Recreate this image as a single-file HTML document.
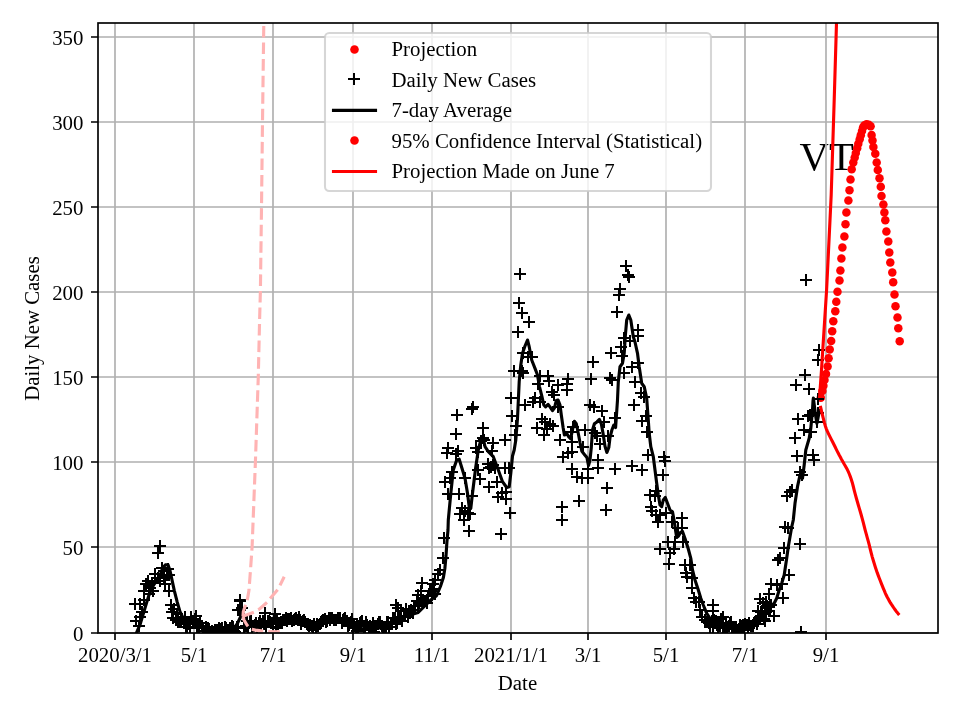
<!DOCTYPE html>
<html><head><meta charset="utf-8"><title>VT</title>
<style>html,body{margin:0;padding:0;background:#fff}svg{display:block;will-change:transform}text{font-family:"Liberation Serif",serif;fill:#000}</style></head><body>
<svg width="960" height="720" viewBox="0 0 960 720">
<rect width="960" height="720" fill="#fff"/>
<defs><clipPath id="c"><rect x="98" y="23" width="840" height="610"/></clipPath>
<path id="p" d="M-6 0H6M0 -6V6" stroke="#000" stroke-width="2" fill="none"/></defs>
<text x="799.6" y="169.6" font-size="40.6">VT</text>
<path d="M115 23 V633 M194 23 V633 M273 23 V633 M353 23 V633 M432 23 V633 M511 23 V633 M588 23 V633 M666 23 V633 M745 23 V633 M826 23 V633 M98 633 H938 M98 547 H938 M98 462 H938 M98 377 H938 M98 292 H938 M98 207 H938 M98 122 H938 M98 37 H938" stroke="#b0b0b0" stroke-width="1.67" fill="none"/>
<g clip-path="url(#c)">
<g fill="#ff0000"><circle cx="820.8" cy="397.8" r="4.25"/><circle cx="822.4" cy="391.0" r="4.25"/><circle cx="823.4" cy="385.8" r="4.25"/><circle cx="824.5" cy="380.0" r="4.25"/><circle cx="826.0" cy="373.9" r="4.25"/><circle cx="827.6" cy="366.6" r="4.25"/><circle cx="828.6" cy="358.2" r="4.25"/><circle cx="829.7" cy="349.4" r="4.25"/><circle cx="831.2" cy="341.0" r="4.25"/><circle cx="832.2" cy="331.3" r="4.25"/><circle cx="833.3" cy="321.3" r="4.25"/><circle cx="835.3" cy="311.3" r="4.25"/><circle cx="836.3" cy="301.7" r="4.25"/><circle cx="837.5" cy="291.7" r="4.25"/><circle cx="839.5" cy="280.5" r="4.25"/><circle cx="840.4" cy="270.5" r="4.25"/><circle cx="841.4" cy="258.6" r="4.25"/><circle cx="842.4" cy="247.4" r="4.25"/><circle cx="844.4" cy="236.6" r="4.25"/><circle cx="845.5" cy="224.3" r="4.25"/><circle cx="846.4" cy="212.4" r="4.25"/><circle cx="848.4" cy="200.5" r="4.25"/><circle cx="849.5" cy="190.3" r="4.25"/><circle cx="850.5" cy="179.5" r="4.25"/><circle cx="851.7" cy="169.2" r="4.25"/><circle cx="853.3" cy="162.5" r="4.25"/><circle cx="854.7" cy="157.5" r="4.25"/><circle cx="855.8" cy="153.0" r="4.25"/><circle cx="857.2" cy="148.3" r="4.25"/><circle cx="858.3" cy="143.7" r="4.25"/><circle cx="859.7" cy="139.2" r="4.25"/><circle cx="860.8" cy="135.3" r="4.25"/><circle cx="862.0" cy="131.0" r="4.25"/><circle cx="863.0" cy="127.5" r="4.25"/><circle cx="864.2" cy="125.5" r="4.25"/><circle cx="866.5" cy="124.2" r="4.25"/><circle cx="868.8" cy="124.7" r="4.25"/><circle cx="870.6" cy="126.2" r="4.25"/><circle cx="871.6" cy="135.0" r="4.25"/><circle cx="872.5" cy="140.6" r="4.25"/><circle cx="873.4" cy="146.9" r="4.25"/><circle cx="875.3" cy="153.8" r="4.25"/><circle cx="876.7" cy="162.5" r="4.25"/><circle cx="877.8" cy="170.0" r="4.25"/><circle cx="879.5" cy="178.3" r="4.25"/><circle cx="880.8" cy="186.7" r="4.25"/><circle cx="881.5" cy="196.0" r="4.25"/><circle cx="883.4" cy="204.5" r="4.25"/><circle cx="884.4" cy="212.4" r="4.25"/><circle cx="885.3" cy="220.3" r="4.25"/><circle cx="886.4" cy="231.5" r="4.25"/><circle cx="888.3" cy="241.4" r="4.25"/><circle cx="889.3" cy="252.4" r="4.25"/><circle cx="890.3" cy="262.5" r="4.25"/><circle cx="892.3" cy="272.4" r="4.25"/><circle cx="893.2" cy="282.3" r="4.25"/><circle cx="894.5" cy="294.5" r="4.25"/><circle cx="895.5" cy="306.3" r="4.25"/><circle cx="897.5" cy="317.5" r="4.25"/><circle cx="898.3" cy="328.3" r="4.25"/><circle cx="899.7" cy="341.3" r="4.25"/></g>
<g><use href="#p" x="160" y="546"/><use href="#p" x="158" y="553"/><use href="#p" x="162" y="568"/><use href="#p" x="155" y="574"/><use href="#p" x="158" y="578"/><use href="#p" x="167" y="575"/><use href="#p" x="169" y="575"/><use href="#p" x="135" y="604"/><use href="#p" x="146" y="584"/><use href="#p" x="144" y="591"/><use href="#p" x="148" y="581"/><use href="#p" x="150" y="588"/><use href="#p" x="153" y="591"/><use href="#p" x="140" y="604"/><use href="#p" x="169" y="591"/><use href="#p" x="171" y="605"/><use href="#p" x="172" y="612"/><use href="#p" x="173" y="618"/><use href="#p" x="136" y="621"/><use href="#p" x="139" y="626"/><use href="#p" x="140" y="617"/><use href="#p" x="165" y="584"/><use href="#p" x="196" y="616"/><use href="#p" x="142" y="612"/><use href="#p" x="144" y="600"/><use href="#p" x="149" y="594"/><use href="#p" x="152" y="583"/><use href="#p" x="164" y="571"/><use href="#p" x="160" y="581"/><use href="#p" x="164" y="577"/><use href="#p" x="168" y="569"/><use href="#p" x="174" y="609"/><use href="#p" x="176" y="620"/><use href="#p" x="177" y="614"/><use href="#p" x="178" y="622"/><use href="#p" x="240" y="600"/><use href="#p" x="238" y="610"/><use href="#p" x="242" y="608"/><use href="#p" x="396" y="605"/><use href="#p" x="398" y="608"/><use href="#p" x="422" y="583"/><use href="#p" x="421" y="591"/><use href="#p" x="418" y="595"/><use href="#p" x="443" y="558"/><use href="#p" x="444" y="538"/><use href="#p" x="440" y="570"/><use href="#p" x="438" y="574"/><use href="#p" x="435" y="580"/><use href="#p" x="434" y="589"/><use href="#p" x="469" y="531"/><use href="#p" x="464" y="520"/><use href="#p" x="501" y="534"/><use href="#p" x="562" y="520"/><use href="#p" x="457" y="415"/><use href="#p" x="473" y="407"/><use href="#p" x="472" y="409"/><use href="#p" x="481" y="441"/><use href="#p" x="483" y="438"/><use href="#p" x="489" y="468"/><use href="#p" x="493" y="465"/><use href="#p" x="483" y="428"/><use href="#p" x="456" y="434"/><use href="#p" x="448" y="448"/><use href="#p" x="447" y="453"/><use href="#p" x="458" y="451"/><use href="#p" x="456" y="454"/><use href="#p" x="476" y="448"/><use href="#p" x="478" y="452"/><use href="#p" x="484" y="440"/><use href="#p" x="493" y="443"/><use href="#p" x="505" y="440"/><use href="#p" x="492" y="451"/><use href="#p" x="488" y="464"/><use href="#p" x="491" y="467"/><use href="#p" x="495" y="468"/><use href="#p" x="478" y="470"/><use href="#p" x="480" y="479"/><use href="#p" x="452" y="472"/><use href="#p" x="450" y="478"/><use href="#p" x="445" y="482"/><use href="#p" x="465" y="478"/><use href="#p" x="448" y="494"/><use href="#p" x="459" y="494"/><use href="#p" x="472" y="496"/><use href="#p" x="489" y="487"/><use href="#p" x="497" y="482"/><use href="#p" x="498" y="497"/><use href="#p" x="502" y="493"/><use href="#p" x="506" y="492"/><use href="#p" x="506" y="499"/><use href="#p" x="510" y="513"/><use href="#p" x="509" y="468"/><use href="#p" x="505" y="468"/><use href="#p" x="512" y="416"/><use href="#p" x="516" y="426"/><use href="#p" x="515" y="435"/><use href="#p" x="525" y="405"/><use href="#p" x="533" y="402"/><use href="#p" x="542" y="419"/><use href="#p" x="537" y="428"/><use href="#p" x="545" y="422"/><use href="#p" x="550" y="424"/><use href="#p" x="553" y="426"/><use href="#p" x="544" y="435"/><use href="#p" x="547" y="429"/><use href="#p" x="560" y="440"/><use href="#p" x="571" y="432"/><use href="#p" x="572" y="442"/><use href="#p" x="568" y="453"/><use href="#p" x="563" y="457"/><use href="#p" x="572" y="452"/><use href="#p" x="572" y="469"/><use href="#p" x="577" y="477"/><use href="#p" x="562" y="507"/><use href="#p" x="579" y="501"/><use href="#p" x="462" y="508"/><use href="#p" x="465" y="511"/><use href="#p" x="468" y="513"/><use href="#p" x="460" y="514"/><use href="#p" x="470" y="514"/><use href="#p" x="520" y="274"/><use href="#p" x="519" y="303"/><use href="#p" x="522" y="313"/><use href="#p" x="529" y="322"/><use href="#p" x="518" y="332"/><use href="#p" x="528" y="357"/><use href="#p" x="532" y="357"/><use href="#p" x="523" y="353"/><use href="#p" x="626" y="266"/><use href="#p" x="628" y="275"/><use href="#p" x="629" y="277"/><use href="#p" x="620" y="289"/><use href="#p" x="619" y="295"/><use href="#p" x="617" y="312"/><use href="#p" x="593" y="362"/><use href="#p" x="611" y="353"/><use href="#p" x="621" y="347"/><use href="#p" x="624" y="338"/><use href="#p" x="622" y="356"/><use href="#p" x="630" y="341"/><use href="#p" x="638" y="330"/><use href="#p" x="638" y="336"/><use href="#p" x="638" y="363"/><use href="#p" x="632" y="367"/><use href="#p" x="514" y="371"/><use href="#p" x="522" y="371"/><use href="#p" x="523" y="373"/><use href="#p" x="511" y="398"/><use href="#p" x="535" y="398"/><use href="#p" x="538" y="384"/><use href="#p" x="540" y="376"/><use href="#p" x="548" y="376"/><use href="#p" x="549" y="381"/><use href="#p" x="558" y="385"/><use href="#p" x="568" y="379"/><use href="#p" x="567" y="384"/><use href="#p" x="567" y="390"/><use href="#p" x="552" y="392"/><use href="#p" x="554" y="395"/><use href="#p" x="540" y="402"/><use href="#p" x="558" y="407"/><use href="#p" x="573" y="427"/><use href="#p" x="585" y="430"/><use href="#p" x="583" y="447"/><use href="#p" x="591" y="379"/><use href="#p" x="590" y="405"/><use href="#p" x="594" y="407"/><use href="#p" x="602" y="411"/><use href="#p" x="610" y="378"/><use href="#p" x="612" y="380"/><use href="#p" x="624" y="373"/><use href="#p" x="635" y="382"/><use href="#p" x="634" y="405"/><use href="#p" x="641" y="393"/><use href="#p" x="644" y="397"/><use href="#p" x="646" y="416"/><use href="#p" x="642" y="421"/><use href="#p" x="647" y="432"/><use href="#p" x="648" y="455"/><use href="#p" x="615" y="418"/><use href="#p" x="604" y="422"/><use href="#p" x="595" y="433"/><use href="#p" x="597" y="436"/><use href="#p" x="608" y="436"/><use href="#p" x="600" y="444"/><use href="#p" x="598" y="460"/><use href="#p" x="664" y="457"/><use href="#p" x="665" y="461"/><use href="#p" x="632" y="466"/><use href="#p" x="642" y="470"/><use href="#p" x="663" y="475"/><use href="#p" x="656" y="491"/><use href="#p" x="650" y="495"/><use href="#p" x="655" y="496"/><use href="#p" x="651" y="507"/><use href="#p" x="652" y="511"/><use href="#p" x="656" y="515"/><use href="#p" x="660" y="515"/><use href="#p" x="666" y="513"/><use href="#p" x="682" y="518"/><use href="#p" x="787" y="496"/><use href="#p" x="660" y="549"/><use href="#p" x="668" y="542"/><use href="#p" x="670" y="553"/><use href="#p" x="669" y="564"/><use href="#p" x="674" y="549"/><use href="#p" x="683" y="542"/><use href="#p" x="678" y="528"/><use href="#p" x="682" y="528"/><use href="#p" x="658" y="522"/><use href="#p" x="672" y="522"/><use href="#p" x="685" y="565"/><use href="#p" x="690" y="565"/><use href="#p" x="686" y="573"/><use href="#p" x="687" y="577"/><use href="#p" x="692" y="578"/><use href="#p" x="692" y="588"/><use href="#p" x="694" y="598"/><use href="#p" x="696" y="602"/><use href="#p" x="699" y="602"/><use href="#p" x="700" y="610"/><use href="#p" x="702" y="617"/><use href="#p" x="713" y="605"/><use href="#p" x="713" y="611"/><use href="#p" x="710" y="627"/><use href="#p" x="723" y="617"/><use href="#p" x="760" y="599"/><use href="#p" x="763" y="603"/><use href="#p" x="766" y="602"/><use href="#p" x="771" y="584"/><use href="#p" x="777" y="585"/><use href="#p" x="782" y="584"/><use href="#p" x="769" y="594"/><use href="#p" x="783" y="598"/><use href="#p" x="758" y="611"/><use href="#p" x="769" y="611"/><use href="#p" x="774" y="616"/><use href="#p" x="765" y="621"/><use href="#p" x="778" y="560"/><use href="#p" x="780" y="558"/><use href="#p" x="784" y="548"/><use href="#p" x="785" y="527"/><use href="#p" x="788" y="528"/><use href="#p" x="789" y="575"/><use href="#p" x="798" y="419"/><use href="#p" x="808" y="416"/><use href="#p" x="810" y="415"/><use href="#p" x="804" y="430"/><use href="#p" x="811" y="432"/><use href="#p" x="795" y="438"/><use href="#p" x="817" y="422"/><use href="#p" x="818" y="413"/><use href="#p" x="797" y="456"/><use href="#p" x="813" y="455"/><use href="#p" x="814" y="460"/><use href="#p" x="800" y="472"/><use href="#p" x="802" y="475"/><use href="#p" x="792" y="490"/><use href="#p" x="790" y="492"/><use href="#p" x="806" y="280"/><use href="#p" x="819" y="350"/><use href="#p" x="818" y="360"/><use href="#p" x="805" y="375"/><use href="#p" x="796" y="385"/><use href="#p" x="809" y="389"/><use href="#p" x="818" y="399"/><use href="#p" x="800" y="544"/><use href="#p" x="801" y="632"/><use href="#p" x="582" y="478"/><use href="#p" x="588" y="478"/><use href="#p" x="588" y="469"/><use href="#p" x="598" y="468"/><use href="#p" x="615" y="469"/><use href="#p" x="607" y="488"/><use href="#p" x="606" y="510"/><use href="#p" x="675" y="542"/><use href="#p" x="177" y="620"/><use href="#p" x="178" y="618"/><use href="#p" x="180" y="622"/><use href="#p" x="181" y="620"/><use href="#p" x="182" y="619"/><use href="#p" x="184" y="623"/><use href="#p" x="185" y="617"/><use href="#p" x="186" y="627"/><use href="#p" x="187" y="627"/><use href="#p" x="189" y="624"/><use href="#p" x="190" y="628"/><use href="#p" x="191" y="617"/><use href="#p" x="193" y="621"/><use href="#p" x="194" y="622"/><use href="#p" x="195" y="619"/><use href="#p" x="197" y="628"/><use href="#p" x="198" y="625"/><use href="#p" x="199" y="627"/><use href="#p" x="200" y="623"/><use href="#p" x="202" y="626"/><use href="#p" x="203" y="631"/><use href="#p" x="204" y="631"/><use href="#p" x="206" y="627"/><use href="#p" x="207" y="629"/><use href="#p" x="208" y="628"/><use href="#p" x="209" y="629"/><use href="#p" x="211" y="632"/><use href="#p" x="212" y="631"/><use href="#p" x="213" y="632"/><use href="#p" x="215" y="630"/><use href="#p" x="216" y="630"/><use href="#p" x="217" y="630"/><use href="#p" x="219" y="628"/><use href="#p" x="220" y="630"/><use href="#p" x="221" y="629"/><use href="#p" x="222" y="628"/><use href="#p" x="224" y="632"/><use href="#p" x="225" y="627"/><use href="#p" x="226" y="628"/><use href="#p" x="228" y="630"/><use href="#p" x="229" y="632"/><use href="#p" x="230" y="628"/><use href="#p" x="232" y="626"/><use href="#p" x="233" y="627"/><use href="#p" x="234" y="631"/><use href="#p" x="235" y="632"/><use href="#p" x="237" y="627"/><use href="#p" x="238" y="627"/><use href="#p" x="244" y="628"/><use href="#p" x="246" y="626"/><use href="#p" x="247" y="621"/><use href="#p" x="248" y="627"/><use href="#p" x="250" y="621"/><use href="#p" x="251" y="621"/><use href="#p" x="252" y="627"/><use href="#p" x="254" y="626"/><use href="#p" x="255" y="625"/><use href="#p" x="256" y="623"/><use href="#p" x="257" y="627"/><use href="#p" x="259" y="623"/><use href="#p" x="260" y="621"/><use href="#p" x="261" y="624"/><use href="#p" x="263" y="621"/><use href="#p" x="264" y="624"/><use href="#p" x="265" y="621"/><use href="#p" x="266" y="627"/><use href="#p" x="268" y="621"/><use href="#p" x="269" y="621"/><use href="#p" x="270" y="622"/><use href="#p" x="272" y="623"/><use href="#p" x="273" y="627"/><use href="#p" x="274" y="619"/><use href="#p" x="276" y="628"/><use href="#p" x="277" y="621"/><use href="#p" x="278" y="624"/><use href="#p" x="279" y="623"/><use href="#p" x="281" y="622"/><use href="#p" x="282" y="623"/><use href="#p" x="283" y="620"/><use href="#p" x="285" y="620"/><use href="#p" x="286" y="618"/><use href="#p" x="287" y="621"/><use href="#p" x="288" y="619"/><use href="#p" x="290" y="619"/><use href="#p" x="291" y="618"/><use href="#p" x="292" y="621"/><use href="#p" x="294" y="620"/><use href="#p" x="295" y="619"/><use href="#p" x="296" y="618"/><use href="#p" x="298" y="620"/><use href="#p" x="299" y="617"/><use href="#p" x="300" y="620"/><use href="#p" x="301" y="624"/><use href="#p" x="303" y="621"/><use href="#p" x="304" y="620"/><use href="#p" x="305" y="622"/><use href="#p" x="307" y="624"/><use href="#p" x="308" y="624"/><use href="#p" x="309" y="626"/><use href="#p" x="310" y="625"/><use href="#p" x="312" y="626"/><use href="#p" x="313" y="630"/><use href="#p" x="314" y="624"/><use href="#p" x="316" y="628"/><use href="#p" x="317" y="624"/><use href="#p" x="318" y="626"/><use href="#p" x="320" y="624"/><use href="#p" x="321" y="622"/><use href="#p" x="322" y="621"/><use href="#p" x="323" y="620"/><use href="#p" x="325" y="619"/><use href="#p" x="326" y="622"/><use href="#p" x="327" y="621"/><use href="#p" x="329" y="618"/><use href="#p" x="330" y="620"/><use href="#p" x="331" y="618"/><use href="#p" x="332" y="618"/><use href="#p" x="334" y="620"/><use href="#p" x="335" y="620"/><use href="#p" x="336" y="620"/><use href="#p" x="338" y="618"/><use href="#p" x="339" y="618"/><use href="#p" x="340" y="618"/><use href="#p" x="342" y="623"/><use href="#p" x="343" y="620"/><use href="#p" x="344" y="619"/><use href="#p" x="345" y="618"/><use href="#p" x="347" y="621"/><use href="#p" x="348" y="626"/><use href="#p" x="349" y="625"/><use href="#p" x="351" y="622"/><use href="#p" x="352" y="619"/><use href="#p" x="353" y="628"/><use href="#p" x="354" y="624"/><use href="#p" x="356" y="628"/><use href="#p" x="357" y="631"/><use href="#p" x="358" y="631"/><use href="#p" x="360" y="623"/><use href="#p" x="361" y="622"/><use href="#p" x="362" y="621"/><use href="#p" x="364" y="629"/><use href="#p" x="365" y="629"/><use href="#p" x="366" y="622"/><use href="#p" x="367" y="625"/><use href="#p" x="369" y="629"/><use href="#p" x="370" y="626"/><use href="#p" x="371" y="630"/><use href="#p" x="373" y="623"/><use href="#p" x="374" y="632"/><use href="#p" x="375" y="626"/><use href="#p" x="376" y="626"/><use href="#p" x="378" y="624"/><use href="#p" x="379" y="622"/><use href="#p" x="380" y="622"/><use href="#p" x="382" y="626"/><use href="#p" x="383" y="628"/><use href="#p" x="384" y="628"/><use href="#p" x="386" y="629"/><use href="#p" x="387" y="622"/><use href="#p" x="388" y="622"/><use href="#p" x="389" y="627"/><use href="#p" x="391" y="624"/><use href="#p" x="392" y="624"/><use href="#p" x="393" y="618"/><use href="#p" x="395" y="618"/><use href="#p" x="396" y="624"/><use href="#p" x="397" y="623"/><use href="#p" x="398" y="618"/><use href="#p" x="400" y="617"/><use href="#p" x="401" y="611"/><use href="#p" x="402" y="621"/><use href="#p" x="404" y="616"/><use href="#p" x="405" y="616"/><use href="#p" x="406" y="609"/><use href="#p" x="408" y="617"/><use href="#p" x="409" y="612"/><use href="#p" x="410" y="613"/><use href="#p" x="411" y="610"/><use href="#p" x="413" y="613"/><use href="#p" x="414" y="606"/><use href="#p" x="415" y="606"/><use href="#p" x="417" y="601"/><use href="#p" x="418" y="606"/><use href="#p" x="419" y="603"/><use href="#p" x="421" y="601"/><use href="#p" x="422" y="600"/><use href="#p" x="423" y="600"/><use href="#p" x="424" y="602"/><use href="#p" x="426" y="601"/><use href="#p" x="427" y="603"/><use href="#p" x="428" y="596"/><use href="#p" x="430" y="591"/><use href="#p" x="431" y="591"/><use href="#p" x="432" y="595"/><use href="#p" x="433" y="584"/><use href="#p" x="435" y="594"/><use href="#p" x="705" y="620"/><use href="#p" x="707" y="622"/><use href="#p" x="708" y="621"/><use href="#p" x="709" y="623"/><use href="#p" x="710" y="626"/><use href="#p" x="712" y="621"/><use href="#p" x="713" y="627"/><use href="#p" x="714" y="620"/><use href="#p" x="716" y="621"/><use href="#p" x="717" y="625"/><use href="#p" x="718" y="628"/><use href="#p" x="720" y="626"/><use href="#p" x="721" y="619"/><use href="#p" x="722" y="623"/><use href="#p" x="723" y="627"/><use href="#p" x="725" y="628"/><use href="#p" x="726" y="623"/><use href="#p" x="727" y="627"/><use href="#p" x="729" y="626"/><use href="#p" x="730" y="623"/><use href="#p" x="731" y="622"/><use href="#p" x="732" y="628"/><use href="#p" x="734" y="627"/><use href="#p" x="735" y="629"/><use href="#p" x="736" y="629"/><use href="#p" x="738" y="632"/><use href="#p" x="739" y="629"/><use href="#p" x="740" y="625"/><use href="#p" x="742" y="626"/><use href="#p" x="743" y="625"/><use href="#p" x="744" y="630"/><use href="#p" x="745" y="624"/><use href="#p" x="747" y="625"/><use href="#p" x="748" y="630"/><use href="#p" x="749" y="623"/><use href="#p" x="751" y="626"/><use href="#p" x="752" y="626"/><use href="#p" x="753" y="626"/><use href="#p" x="754" y="623"/><use href="#p" x="756" y="621"/><use href="#p" x="757" y="624"/><use href="#p" x="758" y="620"/><use href="#p" x="760" y="617"/><use href="#p" x="761" y="612"/><use href="#p" x="762" y="612"/><use href="#p" x="764" y="619"/><use href="#p" x="765" y="614"/><use href="#p" x="766" y="612"/><use href="#p" x="767" y="606"/><use href="#p" x="769" y="607"/><use href="#p" x="770" y="605"/><use href="#p" x="771" y="605"/><use href="#p" x="240" y="601"/><use href="#p" x="240" y="610"/><use href="#p" x="242" y="608"/><use href="#p" x="265" y="613"/><use href="#p" x="275" y="614"/></g>
<path d="M136.8 632.2 L140.3 623.9 L144.4 610.0 L148.6 596.1 L152.8 586.4 L156.3 580.8 L159.7 576.7 L162.5 568.3 L165.3 564.9 L168.1 564.9 L170.1 571.1 L172.2 580.8 L174.3 590.6 L177.1 601.7 L179.9 611.4 L182.6 616.9 L186.1 619.7 L191.7 621.1 L197.2 621.1 L200.0 624.0 L205.0 629.0 L215.0 629.8 L225.0 630.0 L233.0 629.5 L237.5 623.3 L241.0 616.0 L243.0 613.5 L246.0 619.0 L249.0 625.0 L255.0 626.0 L262.0 624.0 L270.0 623.5 L280.0 622.5 L287.0 620.0 L293.0 619.0 L300.0 620.0 L307.0 624.0 L313.0 626.5 L320.0 623.5 L327.0 619.0 L333.0 618.0 L340.0 621.0 L346.0 625.0 L352.0 624.5 L360.0 626.5 L370.0 625.5 L380.0 628.0 L388.0 626.5 L395.3 621.7 L402.9 617.1 L410.6 614.8 L418.2 612.5 L424.3 606.4 L430.4 600.3 L436.5 595.7 L440.4 586.5 L443.4 577.4 L444.9 568.2 L446.0 556.0 L446.9 542.2 L448.0 530.0 L448.3 520.0 L450.8 493.3 L453.3 470.0 L456.7 460.0 L459.2 459.2 L462.5 470.0 L465.0 478.3 L467.5 493.3 L469.2 506.7 L470.8 508.3 L472.5 493.3 L475.8 466.7 L478.3 450.0 L480.8 440.0 L483.0 437.5 L485.0 446.7 L488.3 451.7 L493.3 456.7 L498.3 470.0 L502.5 481.7 L506.7 487.5 L509.2 486.7 L510.8 473.3 L512.5 456.0 L514.2 450.0 L515.8 440.0 L517.5 418.3 L519.2 381.7 L520.8 365.0 L522.5 353.3 L525.0 346.0 L527.5 340.0 L529.2 346.7 L531.7 360.0 L535.0 368.3 L537.5 375.0 L539.4 386.3 L541.9 396.3 L543.8 405.0 L545.6 406.9 L548.1 404.4 L550.0 406.9 L552.5 410.6 L554.4 408.1 L556.3 400.6 L558.1 400.0 L560.0 405.0 L561.3 415.0 L563.1 427.5 L564.4 435.0 L566.9 433.8 L568.8 436.9 L570.6 438.8 L572.5 430.0 L574.4 421.3 L576.3 423.8 L578.1 432.5 L580.0 442.5 L581.9 451.3 L584.4 454.4 L586.9 457.5 L588.5 465.5 L590.0 460.0 L591.3 447.5 L592.5 430.0 L594.4 423.8 L596.9 421.9 L599.4 419.4 L601.3 423.8 L603.1 433.8 L605.0 446.3 L606.9 452.5 L608.8 447.5 L610.0 437.5 L611.9 430.0 L613.8 425.0 L615.6 427.5 L616.3 417.5 L617.5 400.0 L618.3 381.7 L620.0 366.7 L622.5 363.3 L624.2 353.3 L625.4 335.0 L626.7 320.0 L628.8 315.0 L630.8 320.0 L633.3 336.7 L635.0 342.0 L637.5 353.3 L639.2 366.7 L641.7 383.3 L644.2 386.7 L646.7 398.3 L648.3 420.0 L649.2 433.3 L650.8 446.7 L653.3 456.7 L655.0 470.0 L656.7 483.3 L658.3 495.0 L660.0 505.0 L661.7 506.7 L663.3 500.0 L665.3 497.5 L667.5 503.3 L670.0 510.0 L672.5 511.7 L674.2 521.0 L675.5 530.0 L676.7 537.5 L678.5 536.0 L680.5 532.5 L682.5 531.5 L685.0 538.5 L688.3 549.0 L690.8 558.3 L692.5 570.0 L695.0 580.0 L698.3 590.0 L700.8 598.3 L703.3 605.0 L706.7 613.3 L710.0 618.3 L716.7 621.7 L723.3 624.2 L730.0 625.8 L738.3 626.7 L746.7 625.0 L753.3 621.7 L760.0 616.7 L765.0 611.7 L770.0 606.7 L774.2 603.3 L776.7 598.3 L779.2 590.0 L781.7 583.3 L784.2 575.0 L786.7 558.3 L788.3 546.7 L790.0 536.7 L791.7 527.0 L793.3 520.0 L795.0 503.3 L797.5 486.7 L800.0 475.0 L802.5 478.3 L804.2 465.0 L805.8 450.0 L809.2 438.3 L810.8 428.3 L812.5 410.0 L813.0 401.0 L813.4 398.0 L814.0 403.0 L815.5 415.0 L816.9 423.5 L818.0 418.0 L819.4 410.6" stroke="#000" stroke-width="3.125" stroke-linejoin="round" stroke-linecap="square" fill="none"/>
<path d="M243.0 616.0 L243.3 611.9 L244.8 607.0 L246.9 602.4 L249.0 590.0 L250.5 570.0 L252.1 547.0 L253.3 516.0 L255.4 462.0 L258.3 376.0 L259.6 320.0 L260.4 291.0 L261.5 207.0 L262.5 122.0 L263.8 23.0" stroke="#ffb3b3" stroke-width="3.125" stroke-dasharray="11.56 5" fill="none"/>
<path d="M243.0 616.3 L254.2 612.2 L258.6 609.7 L263.0 606.0 L267.3 602.0 L269.9 598.7 L274.0 594.0 L278.2 589.0 L284.2 576.7" stroke="#ffb3b3" stroke-width="3.125" stroke-dasharray="11.56 5" fill="none"/>
<path d="M243.0 616.0 L244.0 620.0 L247.0 625.0 L250.2 628.7 L255.3 630.1 L266.6 631.6 L283.4 631.9" stroke="#ffb3b3" stroke-width="3.125" stroke-dasharray="11.56 5" fill="none"/>
<path d="M819.5 398.0 L821.5 370.0 L823.4 340.0 L826.6 290.0 L830.0 220.0 L831.2 195.0 L834.2 100.0 L836.5 23.0" stroke="#ff0000" stroke-width="3.125" stroke-linejoin="round" fill="none"/>
<path d="M820.3 405.8 L821.3 410.1 L822.3 414.3 L823.3 418.3 L824.3 422.3 L825.3 425.9 L826.3 428.8 L827.3 431.2 L828.3 433.3 L829.3 435.4 L830.3 437.4 L831.3 439.4 L832.3 441.3 L833.3 443.3 L834.3 445.3 L835.3 447.3 L836.3 449.4 L837.3 451.4 L838.3 453.3 L839.3 455.2 L840.3 457.0 L841.3 458.9 L842.3 460.7 L843.3 462.5 L844.3 464.3 L845.3 466.0 L846.3 467.8 L847.3 469.6 L848.3 471.7 L849.3 474.0 L850.3 476.6 L851.3 479.5 L852.3 482.7 L853.3 486.5 L854.3 490.6 L855.3 494.4 L856.3 498.0 L857.3 501.5 L858.3 505.0 L859.3 508.4 L860.3 511.8 L861.3 515.2 L862.3 518.8 L863.3 522.7 L864.3 526.7 L865.3 530.6 L866.3 534.2 L867.3 537.8 L868.3 541.4 L869.3 545.2 L870.3 549.3 L871.3 553.3 L872.3 557.1 L873.3 560.5 L874.3 563.8 L875.3 567.0 L876.3 570.0 L877.3 572.9 L878.3 575.6 L879.3 578.2 L880.3 580.8 L881.3 583.3 L882.3 585.8 L883.3 588.3 L884.3 590.7 L885.3 593.1 L886.3 595.3 L887.3 597.3 L888.3 599.1 L889.3 600.9 L890.3 602.6 L891.3 604.2 L892.3 605.7 L893.3 607.2 L894.3 608.6 L895.3 610.0 L896.3 611.4 L897.3 612.6 L898.3 613.9 L899.3 615.0" stroke="#ff0000" stroke-width="3.125" stroke-linejoin="round" fill="none"/>
</g>
<path d="M115 633 v7 M194 633 v7 M273 633 v7 M353 633 v7 M432 633 v7 M511 633 v7 M588 633 v7 M666 633 v7 M745 633 v7 M826 633 v7 M98 633 h-7 M98 547 h-7 M98 462 h-7 M98 377 h-7 M98 292 h-7 M98 207 h-7 M98 122 h-7 M98 37 h-7" stroke="#000" stroke-width="1.67" fill="none"/>
<rect x="98" y="23" width="840" height="610" fill="none" stroke="#000" stroke-width="1.67"/>
<text x="115" y="661.6" font-size="20.83" text-anchor="middle">2020/3/1</text>
<text x="194" y="661.6" font-size="20.83" text-anchor="middle">5/1</text>
<text x="273" y="661.6" font-size="20.83" text-anchor="middle">7/1</text>
<text x="353" y="661.6" font-size="20.83" text-anchor="middle">9/1</text>
<text x="432" y="661.6" font-size="20.83" text-anchor="middle">11/1</text>
<text x="511" y="661.6" font-size="20.83" text-anchor="middle">2021/1/1</text>
<text x="588" y="661.6" font-size="20.83" text-anchor="middle">3/1</text>
<text x="666" y="661.6" font-size="20.83" text-anchor="middle">5/1</text>
<text x="745" y="661.6" font-size="20.83" text-anchor="middle">7/1</text>
<text x="826" y="661.6" font-size="20.83" text-anchor="middle">9/1</text>
<text x="83.4" y="640.50" font-size="20.83" text-anchor="end">0</text>
<text x="83.4" y="554.50" font-size="20.83" text-anchor="end">50</text>
<text x="83.4" y="469.50" font-size="20.83" text-anchor="end">100</text>
<text x="83.4" y="384.50" font-size="20.83" text-anchor="end">150</text>
<text x="83.4" y="299.50" font-size="20.83" text-anchor="end">200</text>
<text x="83.4" y="214.50" font-size="20.83" text-anchor="end">250</text>
<text x="83.4" y="129.50" font-size="20.83" text-anchor="end">300</text>
<text x="83.4" y="44.50" font-size="20.83" text-anchor="end">350</text>
<text x="517.5" y="690" font-size="20.83" text-anchor="middle">Date</text>
<text transform="translate(38.8 328.5) rotate(-90)" font-size="20.83" text-anchor="middle">Daily New Cases</text>
<rect x="325" y="33" width="386" height="158" rx="4.2" fill="#fff" fill-opacity="0.8" stroke="#cccccc" stroke-opacity="0.8" stroke-width="2.08"/>
<circle cx="354.5" cy="49.5" r="4.3" fill="#ff0000"/>
<use href="#p" x="354" y="79"/>
<path d="M333.5 110.4 H375.5" stroke="#000" stroke-width="3.125" stroke-linecap="square"/>
<circle cx="354.5" cy="140.5" r="4.3" fill="#ff0000"/>
<path d="M333.5 171.5 H375.5" stroke="#ff0000" stroke-width="3.125" stroke-linecap="square"/>
<text x="391.5" y="55.90" font-size="20.83">Projection</text>
<text x="391.5" y="86.70" font-size="20.83">Daily New Cases</text>
<text x="391.5" y="116.80" font-size="20.83">7-day Average</text>
<text x="391.5" y="147.70" font-size="20.83">95% Confidence Interval (Statistical)</text>
<text x="391.5" y="177.80" font-size="20.83">Projection Made on June 7</text>
</svg></body></html>
